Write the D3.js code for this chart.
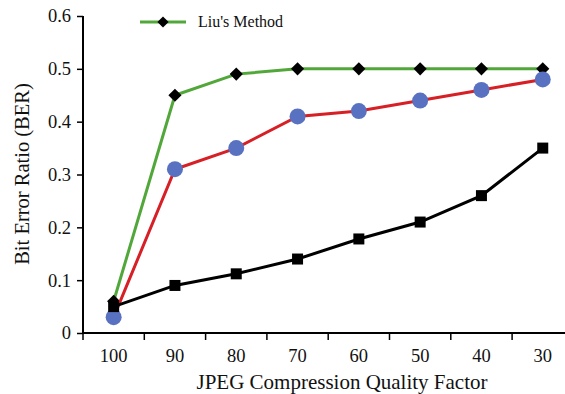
<!DOCTYPE html>
<html>
<head>
<meta charset="utf-8">
<script src="https://cdn.jsdelivr.net/npm/d3@7"></script>
<style>
body { margin: 0; background: #fff; }
svg text { font-family: "Liberation Serif", "Times New Roman", serif; fill: #111; }
</style>
</head>
<body>
<script>
var categories = ["100", "90", "80", "70", "60", "50", "40", "30"];
var liuValues = [0.06, 0.45, 0.49, 0.50, 0.50, 0.50, 0.50, 0.50];
var redValues = [0.03, 0.31, 0.35, 0.41, 0.42, 0.44, 0.46, 0.48];
var blackValues = [0.05, 0.09, 0.112, 0.14, 0.178, 0.21, 0.26, 0.35];
var yTicks = [0, 0.1, 0.2, 0.3, 0.4, 0.5, 0.6];

var width = 565, height = 394;
var plotLeft = 83, plotTop = 16, plotBottom = 333;

var svg = d3.select("body").append("svg")
    .attr("width", width)
    .attr("height", height);

var x = d3.scaleBand()
    .domain(categories)
    .range([plotLeft, plotLeft + 8 * 61.3]);

var y = d3.scaleLinear()
    .domain([0, 0.6])
    .range([plotBottom, plotTop]);

// y axis
var yAxis = svg.append("g")
    .attr("transform", "translate(" + plotLeft + ",0)")
    .call(d3.axisLeft(y).tickValues(yTicks).tickSize(6).tickPadding(6)
        .tickFormat(function (d) { return d === 0 ? "0" : d3.format(".1f")(d); }));
yAxis.select(".domain").attr("stroke-width", 2).attr("d", "M0," + plotTop + "V" + plotBottom);
yAxis.selectAll(".tick line").attr("stroke-width", 1.5);
yAxis.selectAll("text").style("font-size", "18.5px");

// x axis, ticks at band edges
var xAxis = svg.append("g")
    .attr("transform", "translate(0," + plotBottom + ")");
xAxis.append("line")
    .attr("x1", plotLeft).attr("x2", width)
    .attr("stroke", "#000").attr("stroke-width", 2);
xAxis.selectAll(".xtick")
    .data(categories)
    .enter().append("line")
    .attr("x1", function (d) { return x(d); })
    .attr("x2", function (d) { return x(d); })
    .attr("y1", 0).attr("y2", 7)
    .attr("stroke", "#000").attr("stroke-width", 1.5);
xAxis.selectAll(".xlabel")
    .data(categories)
    .enter().append("text")
    .attr("x", function (d) { return x(d) + x.bandwidth() / 2; })
    .attr("y", 29)
    .attr("text-anchor", "middle")
    .style("font-size", "18.5px")
    .text(function (d) { return d; });

svg.append("text")
    .attr("x", 342).attr("y", 389)
    .attr("text-anchor", "middle")
    .style("font-size", "21px")
    .text("JPEG Compression Quality Factor");

svg.append("text")
    .attr("transform", "translate(29,174) rotate(-90)")
    .attr("text-anchor", "middle")
    .style("font-size", "20.5px")
    .text("Bit Error Ratio (BER)");

function cx(i) { return x(categories[i]) + x.bandwidth() / 2; }

var line = d3.line()
    .x(function (d, i) { return cx(i); })
    .y(function (d) { return y(d); });

// Liu's method
svg.append("path")
    .datum(liuValues)
    .attr("d", line)
    .attr("fill", "none")
    .attr("stroke", "#52a73a")
    .attr("stroke-width", 3);
svg.selectAll(".diamond")
    .data(liuValues)
    .enter().append("path")
    .attr("d", d3.symbol().type(d3.symbolDiamond2).size(110))
    .attr("transform", function (d, i) { return "translate(" + cx(i) + "," + y(d) + ")"; })
    .attr("fill", "#000");

// red line with blue circles
svg.append("path")
    .datum(redValues)
    .attr("d", line)
    .attr("fill", "none")
    .attr("stroke", "#d71f26")
    .attr("stroke-width", 3);
svg.selectAll(".dot")
    .data(redValues)
    .enter().append("circle")
    .attr("cx", function (d, i) { return cx(i); })
    .attr("cy", function (d) { return y(d); })
    .attr("r", 8)
    .attr("fill", "#5872c1");

// black line with squares
svg.append("path")
    .datum(blackValues)
    .attr("d", line)
    .attr("fill", "none")
    .attr("stroke", "#000")
    .attr("stroke-width", 3);
svg.selectAll(".square")
    .data(blackValues)
    .enter().append("rect")
    .attr("x", function (d, i) { return cx(i) - 5.5; })
    .attr("y", function (d) { return y(d) - 5.5; })
    .attr("width", 11).attr("height", 11)
    .attr("fill", "#000");

// legend
var legend = svg.append("g").attr("transform", "translate(140,22)");
legend.append("line")
    .attr("x1", 0).attr("x2", 46)
    .attr("stroke", "#52a73a").attr("stroke-width", 3);
legend.append("path")
    .attr("d", d3.symbol().type(d3.symbolDiamond2).size(80))
    .attr("transform", "translate(23,0)")
    .attr("fill", "#000");
legend.append("text")
    .attr("x", 58).attr("y", 5)
    .style("font-size", "16px")
    .text("Liu's Method");
</script>
</body>
</html>
